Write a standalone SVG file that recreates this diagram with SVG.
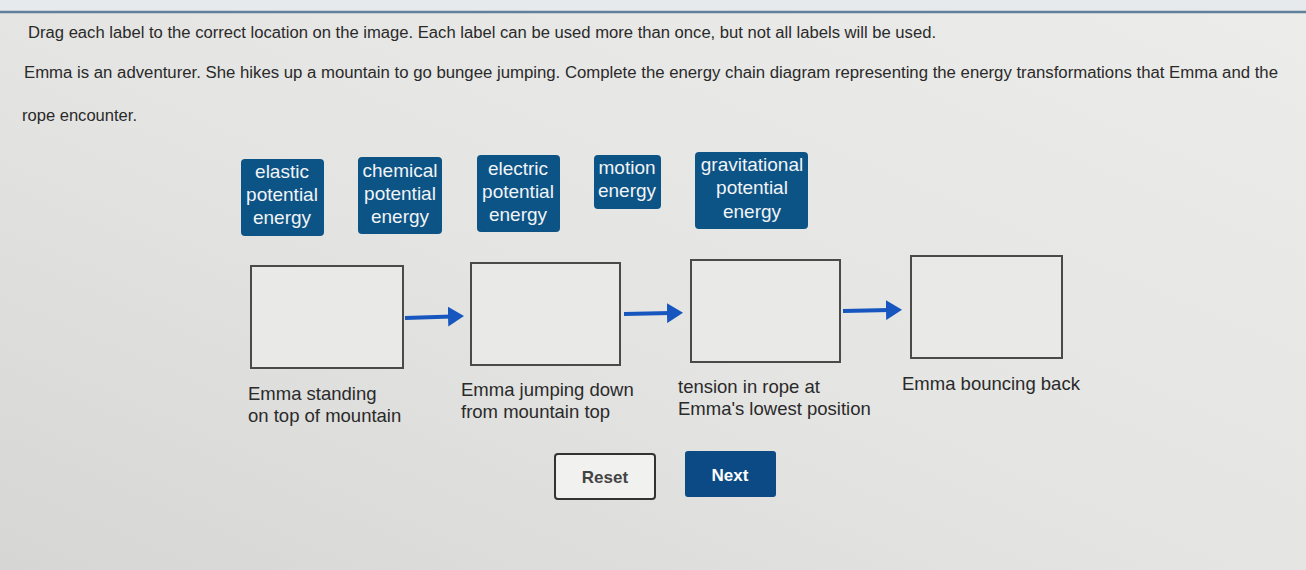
<svg xmlns="http://www.w3.org/2000/svg" width="1306" height="570" viewBox="0 0 1306 570">
  <defs>
    <linearGradient id="bg" x1="0" y1="1" x2="1" y2="0">
      <stop offset="0" stop-color="#d6d6d4"/>
      <stop offset="0.45" stop-color="#e4e4e2"/>
      <stop offset="1" stop-color="#ececea"/>
    </linearGradient>
    <marker id="ah" markerWidth="5" markerHeight="5" refX="1" refY="2.5" orient="auto" markerUnits="strokeWidth">
      <path d="M0,0 L4,2.5 L0,5 Z" fill="#1656be"/>
    </marker>
    <style>
      .t { font-family: "Liberation Sans", Arial, sans-serif; fill: #2a2a2a; }
      .q { font-size: 16px; }
      .lbl { font-size: 18.5px; }
      .tile rect { fill: #0c5386; }
      .tile text { font-family: "Liberation Sans", Arial, sans-serif; font-size: 19px; fill: #f2f4f6; text-anchor: middle; }
      .box { fill: #e9e9e7; stroke: #4a4a4a; stroke-width: 2; }
      .conn line { stroke: #1656be; stroke-width: 4; marker-end: url(#ah); }
      .btn { font-family: "Liberation Sans", Arial, sans-serif; font-size: 17px; font-weight: bold; text-anchor: middle; }
    </style>
  </defs>

  <rect width="1306" height="570" fill="url(#bg)"/>
  <rect width="1306" height="11" fill="#e6eaec"/>
  <line x1="0" y1="12" x2="1306" y2="12" stroke="#5f819c" stroke-width="2.5"/>

  <g id="instructions">
    <text class="t q" x="28" y="38" textLength="908" lengthAdjust="spacingAndGlyphs">Drag each label to the correct location on the image. Each label can be used more than once, but not all labels will be used.</text>
    <text class="t q" x="24" y="78" textLength="1254" lengthAdjust="spacingAndGlyphs">Emma is an adventurer. She hikes up a mountain to go bungee jumping. Complete the energy chain diagram representing the energy transformations that Emma and the</text>
    <text class="t q" x="22" y="121" textLength="115" lengthAdjust="spacingAndGlyphs">rope encounter.</text>
  </g>

  <g id="tile-elastic" class="tile">
    <rect x="241" y="159" width="83" height="77" rx="4"/>
    <text x="282" y="178">elastic</text>
    <text x="282" y="201">potential</text>
    <text x="282" y="224">energy</text>
  </g>
  <g id="tile-chemical" class="tile">
    <rect x="358" y="157" width="84" height="77" rx="4"/>
    <text x="400" y="177">chemical</text>
    <text x="400" y="200">potential</text>
    <text x="400" y="223">energy</text>
  </g>
  <g id="tile-electric" class="tile">
    <rect x="477" y="155" width="83" height="77" rx="4"/>
    <text x="518" y="175">electric</text>
    <text x="518" y="198">potential</text>
    <text x="518" y="221">energy</text>
  </g>
  <g id="tile-motion" class="tile">
    <rect x="594" y="155" width="67" height="54" rx="4"/>
    <text x="627" y="174">motion</text>
    <text x="627" y="197">energy</text>
  </g>
  <g id="tile-gravitational" class="tile">
    <rect x="695" y="152" width="113" height="77" rx="4"/>
    <text x="752" y="171">gravitational</text>
    <text x="752" y="194">potential</text>
    <text x="752" y="218">energy</text>
  </g>

  <g id="connectors" class="conn">
    <line x1="405" y1="318" x2="452" y2="316.5"/>
    <line x1="624" y1="314" x2="671" y2="313"/>
    <line x1="843" y1="311" x2="890" y2="310"/>
  </g>

  <g id="node-standing">
    <rect class="box" x="251" y="266" width="152" height="102"/>
    <text class="t lbl" x="248" y="400">Emma standing</text>
    <text class="t lbl" x="248" y="422">on top of mountain</text>
  </g>
  <g id="node-jumping">
    <rect class="box" x="471" y="263" width="149" height="102"/>
    <text class="t lbl" x="461" y="396">Emma jumping down</text>
    <text class="t lbl" x="461" y="418">from mountain top</text>
  </g>
  <g id="node-tension">
    <rect class="box" x="691" y="260" width="149" height="102"/>
    <text class="t lbl" x="678" y="393">tension in rope at</text>
    <text class="t lbl" x="678" y="415">Emma's lowest position</text>
  </g>
  <g id="node-bouncing">
    <rect class="box" x="911" y="256" width="151" height="102"/>
    <text class="t lbl" x="902" y="390">Emma bouncing back</text>
  </g>

  <g id="btn-reset">
    <rect x="555" y="454" width="100" height="45" rx="3" fill="#f1f1ef" stroke="#333" stroke-width="2"/>
    <text class="btn" x="605" y="483" fill="#444">Reset</text>
  </g>
  <g id="btn-next">
    <rect x="685" y="451" width="91" height="46" rx="3" fill="#0b4a84"/>
    <text class="btn" x="730" y="481" fill="#ffffff">Next</text>
  </g>
</svg>
